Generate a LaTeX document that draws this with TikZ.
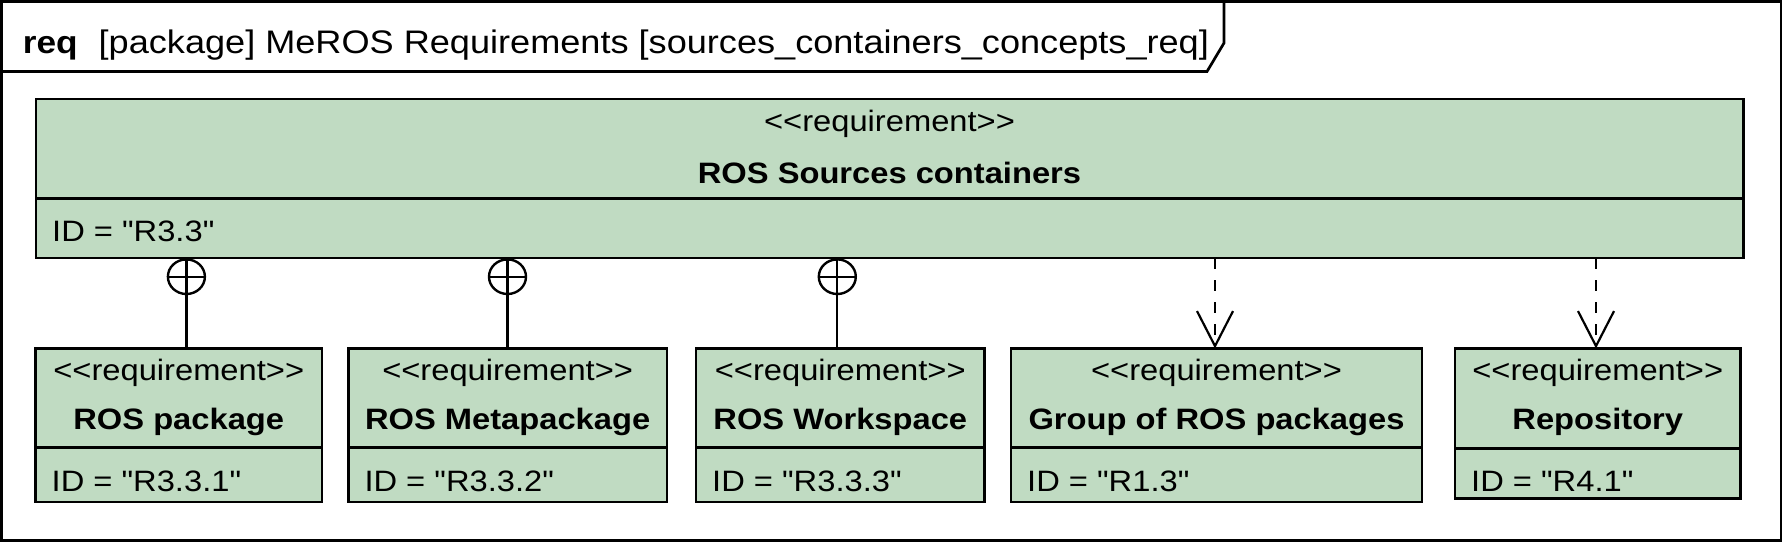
\documentclass[tikz,border=0pt]{standalone}
\usepackage{fontspec}
\setmainfont{Liberation Sans}[FakeStretch=1.108,Ligatures=TeXOff]
\usetikzlibrary{arrows.meta,shapes.geometric}
\definecolor{reqgreen}{RGB}{192,219,194}
\newcommand\bxfont{\fontsize{29.5}{35}\selectfont}
\newcommand\ttlfont{\fontsize{31.8}{38}\selectfont}
\newcommand\ttlrestfont{\fontsize{32.6}{39}\selectfont}
% name, x1, x2, y1, ydiv, y2, title, id
\newcommand\reqbox[8]{%
  \node[reqshape, minimum width={#3-#2}, minimum height={#6-#4}] (#1) at (#2,#4) {};
  \draw[boxline] (#2,#5) -- (#3,#5);
  \node[txt] (#1st) at ({(#2+#3)/2},380.5) {<<requirement>>};
  \node[txt, font=\bxfont\bfseries] (#1nm) at ({(#2+#3)/2},429) {#7};
  \node[txt, anchor=base west] (#1id) at (#2+16,491) {#8};
}
\begin{document}
\begin{tikzpicture}[x=1pt,y=-1pt,
  boxline/.style={line width=2.8pt},
  reqshape/.style={draw, fill=reqgreen, line width=2.8pt, anchor=north west, inner sep=0pt, outer sep=0pt},
  txt/.style={font=\bxfont, anchor=base, inner sep=0pt},
  conn/.style={line width=2.2pt},
  nest/.style={draw, ellipse, line width=2.4pt, minimum width=37pt, minimum height=34.6pt, inner sep=0pt, outer sep=0pt},
  dep/.style={line width=2.2pt, dash pattern=on 11pt off 11pt, -{Straight Barb[length=35pt,width=36pt,line width=2.2pt]}},
  frameline/.style={line width=2.7pt}
]
\useasboundingbox (0,0) rectangle (1785,543);
% frame
\draw[frameline] (1.4,1.4) rectangle (1781,540.5);
\draw[frameline] (1.4,71.5) -- (1207,71.5) -- (1224,43) -- (1224,1.4);
\node[inner sep=0pt, anchor=base west, font=\ttlfont\bfseries] (kind) at (22.7,54) {req};
\node[inner sep=0pt, anchor=base west, font=\ttlrestfont] (ttl) at (98.5,54) {[package] MeROS Requirements [sources\_containers\_concepts\_req]};
% main requirement
\node[reqshape, minimum width={1743.5-36}, minimum height={258-99}] (main) at (36,99) {};
\draw[boxline] (36,198.3) -- (1743.5,198.3);
\node[txt] (mainst) at (889.5,131) {<<requirement>>};
\node[txt, font=\bxfont\bfseries] (mainnm) at (889.5,183.5) {ROS Sources containers};
\node[txt, anchor=base west] (mainid) at (52,241.7) {ID = "R3.3"};
% sub requirements
\reqbox{b1}{35.5}{322}{348.5}{447.7}{502}{ROS package}{ID = "R3.3.1"}
\reqbox{b2}{348.3}{667}{348.5}{447.7}{502}{ROS Metapackage}{ID = "R3.3.2"}
\reqbox{b3}{696}{984.5}{348.5}{447.7}{502}{ROS Workspace}{ID = "R3.3.3"}
\reqbox{b4}{1011}{1422}{348.5}{447.7}{502}{Group of ROS packages}{ID = "R1.3"}
\reqbox{b5}{1455}{1740.5}{348.5}{448.3}{498.5}{Repository}{ID = "R4.1"}
% containment connectors
\coordinate (c1) at (186.4,0);
\coordinate (c2) at (507.5,0);
\coordinate (c3) at (837.3,0);
\node[nest] (n1) at (186.4,276.7) {};
\node[nest] (n2) at (507.5,276.7) {};
\node[nest] (n3) at (837.3,276.7) {};
\draw[conn] (c1 |- main.south) -- (c1 |- b1.north);
\draw[conn] (c2 |- main.south) -- (c2 |- b2.north);
\draw[conn] (c3 |- main.south) -- (c3 |- b3.north);
\draw[conn] (n1.west) -- (n1.east);
\draw[conn] (n2.west) -- (n2.east);
\draw[conn] (n3.west) -- (n3.east);
% dependency connectors
\coordinate (d1) at (1215,0);
\coordinate (d2) at (1596,0);
\draw[dep] (d1 |- main.south) -- (d1 |- b4.north);
\draw[dep] (d2 |- main.south) -- (d2 |- b5.north);
\end{tikzpicture}
\end{document}
